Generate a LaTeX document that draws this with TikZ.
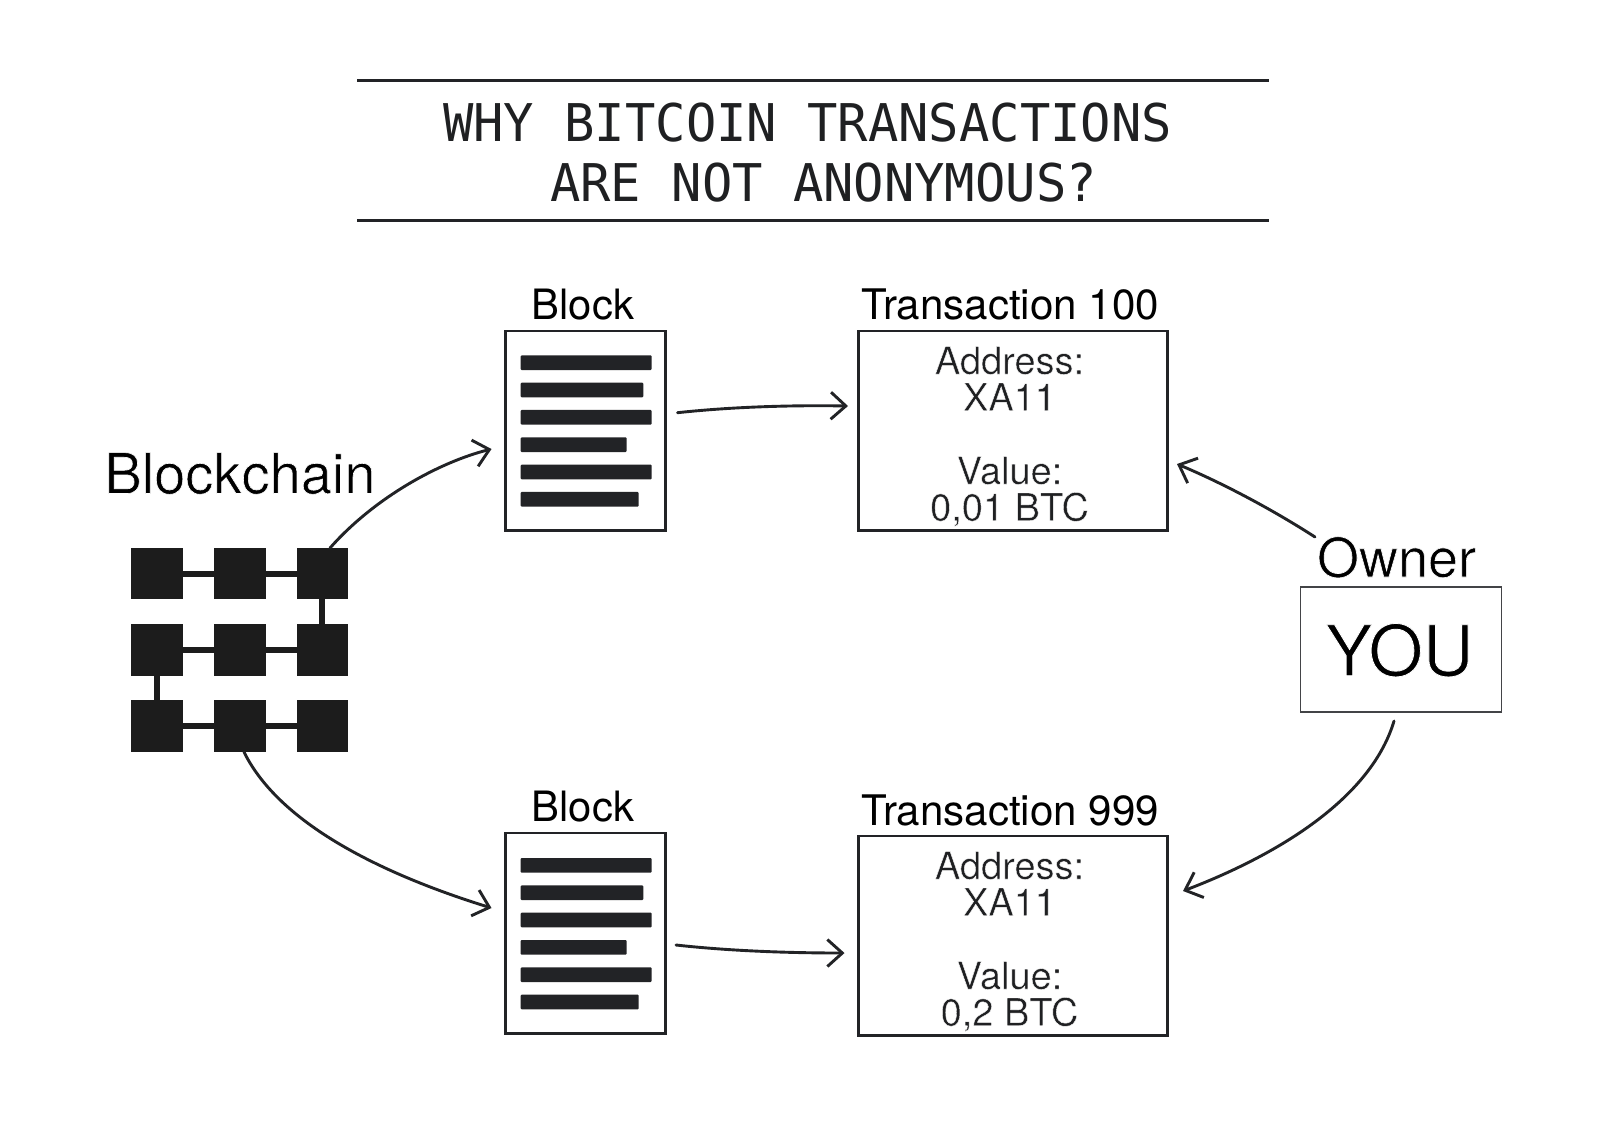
\documentclass[tikz,border=0pt]{standalone}
\usepackage{fontspec}
\usetikzlibrary{arrows.meta}
\setmainfont{TeX Gyre Heros}
\newfontfamily\headf{TeX Gyre Heros}
\newfontfamily\monof{DejaVu Sans Mono}
\definecolor{ink}{HTML}{222326}
\definecolor{sq}{HTML}{1C1C1C}
\newcommand{\thintext}[2]{\special{pdf:code q 2 Tr #1 w 1 1 1 RG}#2\special{pdf:code Q}}
\tikzset{
  x=0.5pt,y=-0.5pt,
  txt/.style={anchor=base,inner sep=0pt,outer sep=0pt,text=ink!90!black},
  titletxt/.style={txt,font=\monof\fontsize{26}{26}\selectfont,xscale=.97},
  head/.style={txt,text=black,font=\headf\fontsize{20.9}{20.9}\selectfont},
  headx/.style={txt,text=black,font=\headf\fontsize{21.05}{21.05}\selectfont},
  big/.style={txt,text=black,font=\fontsize{27}{27}\selectfont},
  small/.style={txt,font=\fontsize{19}{19}\selectfont},
  rulel/.style={draw=ink,line width=1.5pt},
  boxs/.style={draw=ink,line width=1.2pt,fill=white,inner sep=0pt},
  sqn/.style={fill=sq,minimum size=25.8pt,inner sep=0pt,outer sep=0pt},
  linkl/.style={draw=sq,line width=3pt},
  arr/.style={draw=ink,line width=1.45pt,line cap=round,-{Straight Barb[length=7.5pt,width=13.5pt,line width=1.45pt]}},
}
\newcommand{\docbars}[1]{%
  \foreach \i/\e in {0/651.7,1/643.3,2/651.7,3/626.7,4/651.7,5/638.7}
    \fill[ink,rounded corners=0.5pt] (520.7,#1+27.33*\i) rectangle (\e,#1+27.33*\i+14.7);
}
\begin{document}
\begin{tikzpicture}
\useasboundingbox (0,0) rectangle (1600,1131);
\fill[white] (0,0) rectangle (1600,1131);
% title
\coordinate (r1a) at (357,80.7); \coordinate (r1b) at (1269,80.7);
\coordinate (r2a) at (357,220);  \coordinate (r2b) at (1269,220);
\draw[rulel] (r1a) -- (r1b);
\draw[rulel] (r2a) -- (r2b);
\node[titletxt] (t1) at (807.5,141) {WHY BITCOIN TRANSACTIONS};
\node[titletxt] (t2) at (823.5,201) {ARE NOT ANONYMOUS?};
% blockchain
\node[big,font=\fontsize{28}{28}\selectfont] (bc) at (240,493.5) {\thintext{0.3}{Blockchain}};
\node[sqn] (a1) at (157,573.5) {};
\node[sqn] (a2) at (240,573.5) {};
\node[sqn] (a3) at (322.3,573.5) {};
\node[sqn] (b1) at (157,650) {};
\node[sqn] (b2) at (240,650) {};
\node[sqn] (b3) at (322.3,650) {};
\node[sqn] (c1) at (157,726) {};
\node[sqn] (c2) at (240,726) {};
\node[sqn] (c3) at (322.3,726) {};
\draw[linkl] (a1) -- (a2);
\draw[linkl] (a2) -- (a3);
\draw[linkl] (a3) -- (b3);
\draw[linkl] (b1) -- (b2);
\draw[linkl] (b2) -- (b3);
\draw[linkl] (b1) -- (c1);
\draw[linkl] (c1) -- (c2);
\draw[linkl] (c2) -- (c3);
% blocks
\node[head] (bl1) at (583,319.3) {Block};
\node[boxs,minimum width=80pt,minimum height=99.8pt] (d1) at (585.3,430.5) {};
\docbars{355.3}
\node[head] (bl2) at (583,821.7) {Block};
\node[boxs,minimum width=80pt,minimum height=100.3pt] (d2) at (585.3,933) {};
\docbars{858}
% transactions
\node[headx] (h1) at (1010,319.3) {Transaction 100};
\node[boxs,minimum width=154.5pt,minimum height=99.7pt] (x1) at (1012.8,430.6) {};
\node[small] (x1a) at (1009.5,374) {\thintext{0.2}{Address:}};
\node[small] (x1b) at (1009.5,410.7) {\thintext{0.2}{XA11}};
\node[small] (x1c) at (1009.5,484) {\thintext{0.2}{Value:}};
\node[small] (x1d) at (1009.5,520.7) {\thintext{0.2}{0,01 BTC}};
\node[headx] (h2) at (1010,825) {Transaction 999};
\node[boxs,minimum width=154.5pt,minimum height=99.7pt] (x2) at (1012.8,935.6) {};
\node[small] (x2a) at (1009.5,879) {\thintext{0.2}{Address:}};
\node[small] (x2b) at (1009.5,915.7) {\thintext{0.2}{XA11}};
\node[small] (x2c) at (1009.5,989) {\thintext{0.2}{Value:}};
\node[small] (x2d) at (1009.5,1025.7) {\thintext{0.2}{0,2 BTC}};
% owner
\node[big] (ow) at (1396.5,577) {\thintext{0.3}{Owner}};
\node[draw=ink!85,line width=.8pt,inner sep=0pt,minimum width=100.5pt,minimum height=62.5pt] (you) at (1400.8,649.5) {};
\node[txt,text=black,font=\fontsize{35}{35}\selectfont] (yt) at (1399.5,675.7) {\thintext{0.4}{YOU}};
% connector ends
\coordinate (e1) at (491.5,449);
\coordinate (e2) at (491.5,908);
\coordinate (e3) at (848,406);
\coordinate (e4) at (844.5,953);
\coordinate (e5) at (1177,464);
\coordinate (e6) at (1183,891);
\coordinate (s1) at (330,548);
\coordinate (s2) at (244,752);
\coordinate (s3) at (677.5,412.7);
\coordinate (s4) at (676,945);
\coordinate (s5) at (1315,537);
\coordinate (s6) at (1394,721);
\draw[arr] (s1) .. controls (375,497) and (440,462) .. (e1);
\draw[arr] (s2) .. controls (280,825) and (385,875) .. (e2);
\draw[arr] (s3) .. controls (730,407) and (790,405) .. (e3);
\draw[arr] (s4) .. controls (730,951) and (790,953) .. (e4);
\draw[arr] (s5) .. controls (1270,508) and (1220,482) .. (e5);
\draw[arr] (s6) .. controls (1372,795) and (1285,852) .. (e6);
\end{tikzpicture}
\end{document}
